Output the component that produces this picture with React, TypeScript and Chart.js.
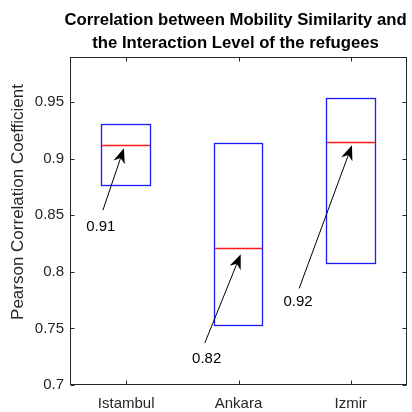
import React, { useEffect, useRef } from "react";
import { Chart, registerables } from "chart.js";

Chart.register(...registerables);

const categories = ["Istambul", "Ankara", "Izmir"];
const q1Values = [0.876, 0.752, 0.807];
const q3Values = [0.931, 0.914, 0.954];
const medianValues = [0.912, 0.821, 0.915];
const yTicks = [0.7, 0.75, 0.8, 0.85, 0.9, 0.95];
const yTickLabels = ["0.7", "0.75", "0.8", "0.85", "0.9", "0.95"];
const noteLabels = ["0.91", "0.82", "0.92"];
const noteTextX = [0.774, 1.717, 2.53];
const noteTextY = [0.8396, 0.723, 0.7736];
const arrowTailX = [0.793, 1.70, 2.54];
const arrowTailY = [0.8546, 0.7371, 0.7854];
const arrowHeadX = [0.98, 2.02, 3.01];
const arrowHeadY = [0.9094, 0.8157, 0.912];
const titleLines = [
  "Correlation between Mobility Similarity and",
  "the Interaction Level of the refugees",
];
const yAxisTitle = "Pearson Correlation Coefficient";

const AXIS_COLOR = "#262626";
const FONT = "'Liberation Sans', Arial, Helvetica, sans-serif";

function drawArrow(ctx: CanvasRenderingContext2D, x1: number, y1: number, x2: number, y2: number) {
  const ang = Math.atan2(y2 - y1, x2 - x1);
  const L = 15;
  const W = 6;
  const notch = 0.7 * L;
  const cos = Math.cos(ang);
  const sin = Math.sin(ang);
  const bx = x2 - L * cos;
  const by = y2 - L * sin;
  const nx = x2 - notch * cos;
  const ny = y2 - notch * sin;
  ctx.save();
  ctx.strokeStyle = "#000";
  ctx.fillStyle = "#000";
  ctx.lineWidth = 1;
  ctx.beginPath();
  ctx.moveTo(x1, y1);
  ctx.lineTo(nx, ny);
  ctx.stroke();
  ctx.beginPath();
  ctx.moveTo(x2, y2);
  ctx.lineTo(bx - W * sin, by + W * cos);
  ctx.lineTo(nx, ny);
  ctx.lineTo(bx + W * sin, by - W * cos);
  ctx.closePath();
  ctx.fill();
  ctx.restore();
}

const decorPlugin = {
  id: "decor",
  afterDatasetsDraw(chart: any) {
    const { ctx, chartArea } = chart;
    const xs = chart.scales.x;
    const ys = chart.scales.y;
    const left = Math.round(chartArea.left) + 0.5;
    const right = Math.round(chartArea.right) - 0.5;
    const top = Math.round(chartArea.top) + 0.5;
    const bottom = Math.round(chartArea.bottom) - 0.5;

    // boxes (outline of each bar element) and medians
    const meta = chart.getDatasetMeta(0);
    ctx.save();
    meta.data.forEach((bar: any, i: number) => {
      const x0 = Math.round(bar.x - bar.width / 2) + 0.5;
      const x1 = Math.round(bar.x + bar.width / 2) - 0.5;
      const yTop = Math.round(Math.min(bar.y, bar.base)) + 0.5;
      const yBot = Math.round(Math.max(bar.y, bar.base)) - 0.5;
      ctx.lineWidth = 1.3;
      ctx.strokeStyle = "#1a1aff";
      ctx.strokeRect(x0, yTop, x1 - x0, yBot - yTop);
      const y = Math.round(ys.getPixelForValue(medianValues[i])) + 0.5;
      ctx.lineWidth = 1.4;
      ctx.strokeStyle = "#ff1a1a";
      ctx.beginPath();
      ctx.moveTo(x0 + 0.6, y);
      ctx.lineTo(x1 - 0.6, y);
      ctx.stroke();
    });
    ctx.restore();

    // axes box and inward ticks
    ctx.save();
    ctx.strokeStyle = AXIS_COLOR;
    ctx.lineWidth = 1;
    ctx.strokeRect(left, top, right - left, bottom - top);
    ctx.beginPath();
    yTicks.forEach((v) => {
      const y = Math.round(ys.getPixelForValue(v)) + 0.5;
      ctx.moveTo(left, y);
      ctx.lineTo(left + 4, y);
      ctx.moveTo(right, y);
      ctx.lineTo(right - 4, y);
    });
    categories.forEach((_, i) => {
      const x = Math.round(xs.getPixelForValue(i)) + 0.5;
      ctx.moveTo(x, bottom);
      ctx.lineTo(x, bottom - 4);
      ctx.moveTo(x, top);
      ctx.lineTo(x, top + 4);
    });
    ctx.stroke();
    ctx.restore();

    // annotations
    const xv = (v: number) => xs.getPixelForValue(v - 1);
    noteLabels.forEach((t, i) => {
      drawArrow(
        ctx,
        xv(arrowTailX[i]),
        ys.getPixelForValue(arrowTailY[i]),
        xv(arrowHeadX[i]),
        ys.getPixelForValue(arrowHeadY[i])
      );
      ctx.save();
      ctx.fillStyle = "#000";
      ctx.font = `15px ${FONT}`;
      ctx.textAlign = "center";
      ctx.textBaseline = "middle";
      ctx.fillText(t, xv(noteTextX[i]), ys.getPixelForValue(noteTextY[i]));
      ctx.restore();
    });

    // title
    ctx.save();
    ctx.fillStyle = "#000";
    ctx.font = `bold 16.7px ${FONT}`;
    ctx.textAlign = "center";
    ctx.textBaseline = "alphabetic";
    const cx = (chartArea.left + chartArea.right) / 2 - 3;
    ctx.fillText(titleLines[0], cx, 25);
    ctx.fillText(titleLines[1], cx, 48);
    ctx.restore();

    // y axis title
    ctx.save();
    ctx.fillStyle = AXIS_COLOR;
    ctx.font = `17px ${FONT}`;
    ctx.textAlign = "center";
    ctx.textBaseline = "middle";
    ctx.translate(18, 202);
    ctx.rotate(-Math.PI / 2);
    ctx.fillText(yAxisTitle, 0, 0);
    ctx.restore();
  },
};

export default function App() {
  const ref = useRef<HTMLCanvasElement | null>(null);
  useEffect(() => {
    document.body.style.margin = "0";
    const canvas = ref.current;
    if (!canvas) return;
    const chart = new Chart(canvas, {
      type: "bar",
      data: {
        labels: categories,
        datasets: [
          {
            data: categories.map((_, i) => [q1Values[i], q3Values[i]]) as any,
            backgroundColor: "rgba(0,0,0,0)",
            borderColor: "rgba(0,0,0,0)",
            borderWidth: 0,
            barPercentage: 0.445,
            categoryPercentage: 1,
          },
        ],
      },
      options: {
        animation: false,
        responsive: false,
        maintainAspectRatio: false,
        layout: { padding: { top: 57, right: 5, left: 0, bottom: 0 } },
        plugins: {
          legend: { display: false },
          title: { display: false },
          tooltip: { enabled: false },
        },
        scales: {
          x: {
            type: "category",
            offset: true,
            grid: { display: false, drawTicks: false },
            border: { display: false },
            ticks: {
              color: AXIS_COLOR,
              font: { family: FONT, size: 15 },
              padding: 10,
              maxRotation: 0,
            },
            afterFit: (s: any) => {
              s.height = 27;
            },
          },
          y: {
            type: "linear",
            min: 0.7,
            max: 0.99,
            grid: { display: false, drawTicks: false },
            border: { display: false },
            afterBuildTicks: (s: any) => {
              s.ticks = yTicks.map((v) => ({ value: v }));
            },
            ticks: {
              color: AXIS_COLOR,
              font: { family: FONT, size: 15 },
              padding: 6,
              callback: (_v: any, i: number) => yTickLabels[i],
            },
            afterFit: (s: any) => {
              s.width = 70;
            },
          },
        },
      },
      plugins: [decorPlugin],
    });
    return () => chart.destroy();
  }, []);
  return (
    <div style={{ width: 412, height: 412, background: "#fff" }}>
      <canvas ref={ref} width={412} height={412} />
    </div>
  );
}
